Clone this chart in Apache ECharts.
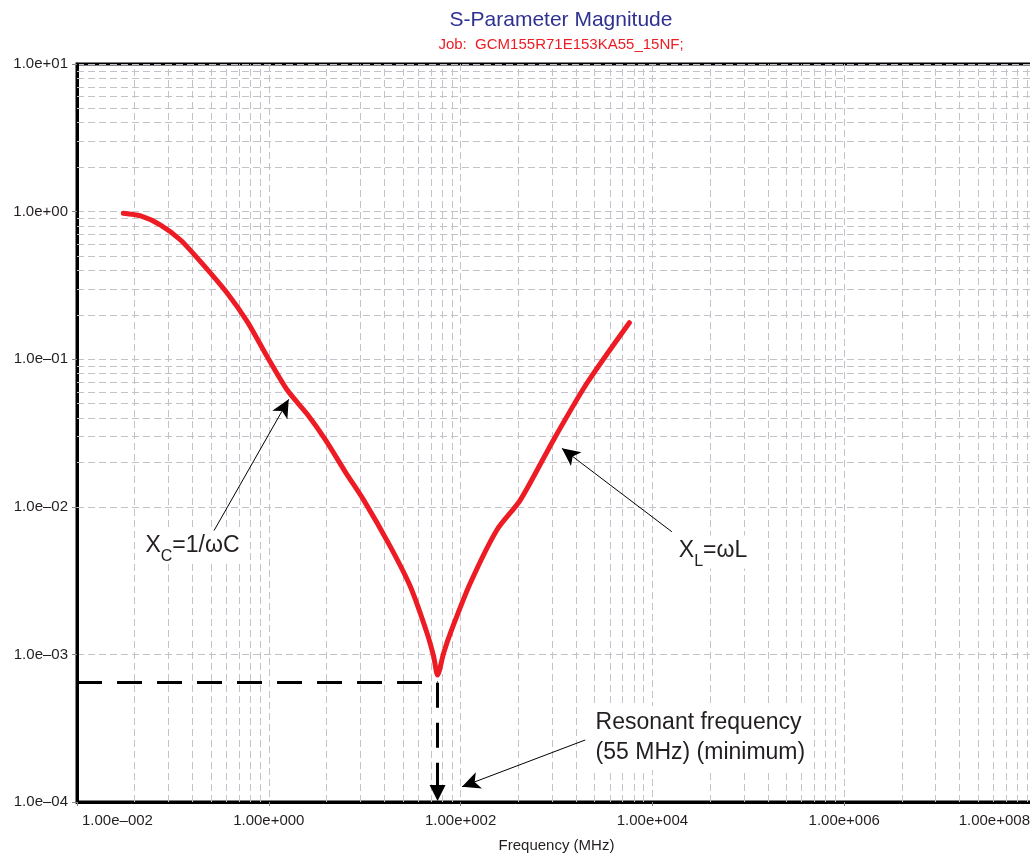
<!DOCTYPE html>
<html>
<head>
<meta charset="utf-8">
<script src="https://cdn.jsdelivr.net/npm/echarts@6/dist/echarts.min.js"></script>
<style>
  html, body { margin: 0; padding: 0; background: #fff; }
  #chart-sparam { width: 1030px; height: 857px; }
</style>
</head>
<body>
<div id="chart-sparam"></div>
<script>
// curve: frequency (MHz) vs |S| magnitude
var freqMHz = [0.0304, 0.0461, 0.0745, 0.120, 0.194, 0.369, 0.596, 0.962, 1.556, 2.51, 3.90, 6.29,
  9.77, 18.5, 29.9, 44.7, 52.4, 57.5, 66.5, 78.1, 126, 239, 419, 931, 2075, 5754];
var magnitude = [0.974, 0.934, 0.811, 0.642, 0.458, 0.280, 0.1795, 0.104, 0.0618, 0.0425, 0.0284, 0.0172,
  0.0111, 0.00537, 0.00288, 0.00139, 0.000965, 0.000725, 0.00102, 0.00139, 0.00303, 0.00697, 0.0111,
  0.0284, 0.0687, 0.1767];

// resonance marker
var resFreq = 57.5;
var resLevel = 6.43e-4;

// annotation arrows: [fromFreq, fromMag, toFreq, toMag]
var arrowXC = [0.2596, 0.00664, 1.614, 0.0535];
var arrowXL = [15920, 0.00678, 1138, 0.0249];
var arrowRes = [1991, 2.63e-4, 103.5, 1.27e-4];

// annotation text anchors
var labelXC = [0.160, 0.00534];
var labelXL = [42850, 0.00494];
var labelRes = [2296, 2.71e-4];

(function() {
  var font = '"Liberation Sans", Arial, sans-serif';
  var ink = '#231f20';
  var gridCol = '#c2c2c8';
  var red = '#ed1c24';

  function expLabel(v, mant, digits) {
    var e = Math.round(Math.log10(v));
    var a = String(Math.abs(e));
    while (a.length < digits) a = '0' + a;
    return mant + 'e' + (e < 0 ? '\u2013' : '+') + a;
  }

  // minor grid: y has 2..9 per decade, x has m^2 steps over 2-decade majors
  var gridLines = [];
  for (var k = -4; k < 1; k++)
    for (var m = 2; m < 10; m++) gridLines.push({ yAxis: m * Math.pow(10, k) });
  for (var j = -2; j < 8; j += 2)
    for (var n = 2; n < 10; n++) gridLines.push({ xAxis: n * n * Math.pow(10, j) });

  var pts = freqMHz.map(function(f, i) { return [f, magnitude[i]]; });

  function arrow(a) {
    return [{ coord: [a[0], a[1]] }, { coord: [a[2], a[3]] }];
  }

  var subRich = {
    x: { fontSize: 23, lineHeight: 25, verticalAlign: 'top', color: ink },
    s: { fontSize: 16, lineHeight: 16, padding: [14, 0, 0, 0], verticalAlign: 'top', color: ink }
  };

  var chart = echarts.init(document.getElementById('chart-sparam'), null, { renderer: 'canvas' });
  chart.setOption({
    animation: false,
    textStyle: { fontFamily: font },
    title: {
      text: 'S-Parameter Magnitude',
      subtext: 'Job:  GCM155R71E153KA55_15NF;',
      left: 556, top: 5, textAlign: 'center', itemGap: 6,
      textStyle: { color: '#2e3192', fontSize: 21, fontWeight: 'normal', fontFamily: font },
      subtextStyle: { color: red, fontSize: 15, fontFamily: font }
    },
    grid: { left: 77, right: -6, top: 64, bottom: 55, show: true, containLabel: false,
      outerBoundsMode: 'none', borderColor: '#000', borderWidth: 3 },
    xAxis: {
      type: 'log', logBase: 10, min: 0.01, max: 1e8, interval: 2,
      name: 'Frequency (MHz)', nameLocation: 'middle', nameGap: 36,
      nameTextStyle: { color: ink, fontSize: 15, fontFamily: font },
      axisLine: { lineStyle: { color: '#000', width: 3 } },
      axisTick: { show: true, length: 4, lineStyle: { color: '#888' } },
      axisLabel: { color: ink, fontSize: 15, margin: 11, hideOverlap: false,
        alignMinLabel: 'left', alignMaxLabel: 'right',
        formatter: function(v) {
          var t = expLabel(v, '1.00', 3);
          if (v <= 0.0100001) return '{lo|' + t + '}';
          if (v >= 0.99e8) return '{hi|' + t + '}';
          return t;
        },
        rich: {
          lo: { fontSize: 15, color: ink, padding: [0, 0, 0, 5] },
          hi: { fontSize: 15, color: ink, padding: [0, 6, 0, 0] }
        } },
      splitLine: { show: true, lineStyle: { color: gridCol, type: [7, 4], width: 1 } }
    },
    yAxis: {
      type: 'log', logBase: 10, min: 1e-4, max: 10, interval: 1,
      axisLine: { lineStyle: { color: '#000', width: 3 } },
      axisTick: { show: true, length: 5, lineStyle: { color: '#888' } },
      axisLabel: { color: ink, fontSize: 15, margin: 9,
        formatter: function(v) { return expLabel(v, '1.0', 2); } },
      splitLine: { show: true, lineStyle: { color: gridCol, type: [7, 4], width: 1 } }
    },
    series: [
      { // minor grid
        type: 'line', data: [], silent: true, z: 1,
        markLine: { silent: true, symbol: 'none', animation: false,
          label: { show: false },
          lineStyle: { color: gridCol, type: [7, 4], width: 1 },
          emphasis: { disabled: true },
          data: gridLines }
      },
      { // magnitude trace
        type: 'line', data: pts, showSymbol: false, silent: true, z: 5,
        smooth: 0.25,
        lineStyle: { color: red, width: 5, cap: 'round', join: 'round' }
      },
      { // annotations
        type: 'line', data: [], silent: true, z: 6,
        markLine: {
          silent: true, animation: false,
          symbol: ['none', 'arrow'], symbolSize: [13, 18],
          label: { show: false },
          emphasis: { disabled: true },
          lineStyle: { color: '#000', type: 'solid', width: 1 },
          data: [
            arrow(arrowXC), arrow(arrowXL), arrow(arrowRes),
            [{ coord: [0.01, resLevel], symbol: 'none',
               lineStyle: { color: '#000', type: [25, 15], width: 3 } },
             { coord: [resFreq, resLevel], symbol: 'none' }],
            [{ coord: [resFreq, resLevel], symbol: 'none',
               lineStyle: { color: '#000', type: [25, 15], width: 3 } },
             { coord: [resFreq, 1.15e-4], symbol: 'triangle', symbolSize: [16, 16] }]
          ]
        },
        markPoint: {
          silent: true, animation: false, symbol: 'rect', symbolSize: 1,
          itemStyle: { color: 'rgba(0,0,0,0)' },
          label: { show: true, color: ink, fontSize: 23, fontFamily: font,
            backgroundColor: '#fff', padding: [4, 6] },
          data: [
            { coord: labelXC, label: { position: 'inside',
                formatter: '{x|X}{s|C}{x|=1/\u03c9C}', rich: subRich } },
            { coord: labelXL, label: { position: 'inside',
                formatter: '{x|X}{s|L}{x|=\u03c9L}', rich: subRich } },
            { coord: labelRes, label: { position: 'right', distance: 0, align: 'left',
                lineHeight: 30, padding: [2, 4],
                formatter: 'Resonant frequency\n(55 MHz) (minimum)' } }
          ]
        }
      }
    ]
  });
  window.addEventListener('resize', function() { chart.resize(); });
})();
</script>
</body>
</html>
